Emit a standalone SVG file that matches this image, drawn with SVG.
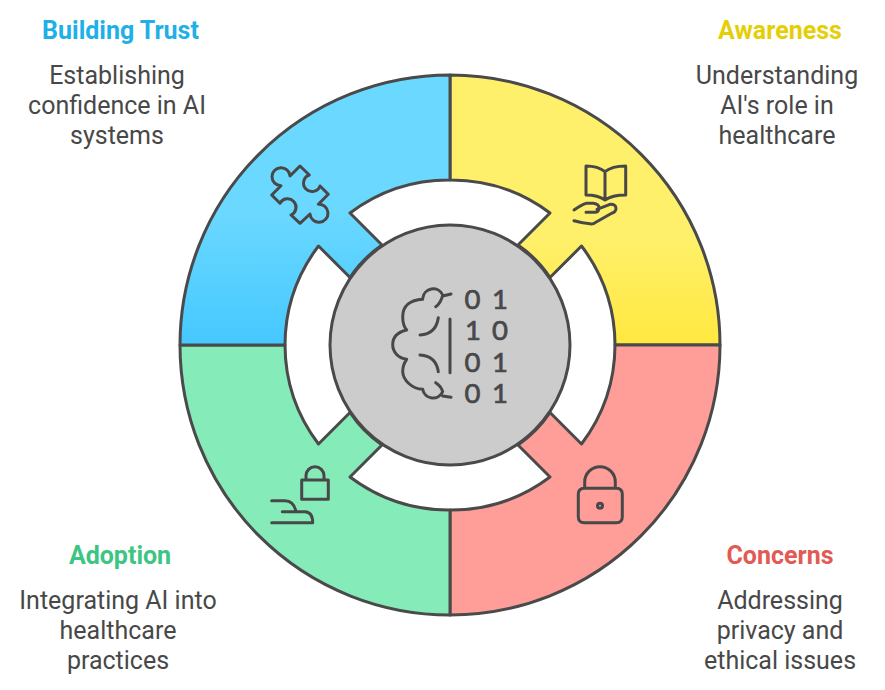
<svg xmlns="http://www.w3.org/2000/svg" width="885" height="690" viewBox="0 0 885 690">
<style>
.seg{stroke:#4a4a4a;stroke-width:3;stroke-linejoin:round}
.ic{fill:none;stroke:#484848;stroke-width:3;stroke-linecap:round;stroke-linejoin:round}
.t{font-family:Roboto,"Liberation Sans",sans-serif;font-size:25px;fill:#484848;text-anchor:middle}
.h{font-family:Roboto,"Liberation Sans",sans-serif;font-size:25px;font-weight:700;text-anchor:middle}
.d{font-family:Lato,"Liberation Sans",sans-serif;font-size:27.500px;fill:#484848;stroke:#484848;stroke-width:.7;text-anchor:middle}
</style>
<defs>
<linearGradient id="gy" x1="0" y1="0" x2="0" y2="1"><stop offset="0" stop-color="#fff06b"/><stop offset="0.6" stop-color="#fff06b"/><stop offset="1" stop-color="#ffe83f"/></linearGradient>
<linearGradient id="gb" x1="0" y1="0" x2="0" y2="1"><stop offset="0" stop-color="#6bd8ff"/><stop offset="0.5" stop-color="#6bd8ff"/><stop offset="1" stop-color="#45c8ff"/></linearGradient>
</defs>
<g id="connectors"></g>
<g id="awareness">
<path class="seg" fill="url(#gy)" d="M450 75A270 270 0 0 1 720 345H615A165 165 0 0 0 581.500 246L550 277.500A120 120 0 0 0 518 245L550 213A165 165 0 0 0 450 180Z"/>
<path class="ic" d="M586 166Q598 166 605 171.700Q612 166 625.700 166V195Q612 195 605 200Q598 195 586 195ZM605 171.700V200M574 210Q581 205 586 203.300H593.300Q599 204 599 208Q598.500 212.300 595 212.300H586M597 209.300L610 204.300Q616 204 616 208.300Q616 212 611.700 213.300L596.700 221.700Q594 224 591.700 224Q582 223 574 220.700"/>
<text class="h" x="780" y="39.200" fill="#e4cf07">Awareness</text>
<text class="t" x="777" y="84.200">Understanding</text><text class="t" x="777" y="114.200">AI's role in</text><text class="t" x="777" y="144.200">healthcare</text>
</g>
<g id="concerns">
<path class="seg" fill="#ff9e99" d="M720 345A270 270 0 0 1 450 615V510A165 165 0 0 0 550 477L518 445A120 120 0 0 0 550 412.500L581.500 444A165 165 0 0 0 615 345Z"/>
<path class="ic" d="M584.300 488.300H616.300Q622.300 488.300 622.300 494.300V516.700Q622.300 522.700 616.300 522.700H584.300Q578.300 522.700 578.300 516.700V494.300Q578.300 488.300 584.300 488.300ZM584.700 488V482A15.300 15.300 0 0 1 615.300 482V488"/>
<circle class="ic" cx="600" cy="505.700" r="2.500"/>
<text class="h" x="780" y="564.200" fill="#e25a55">Concerns</text>
<text class="t" x="780" y="609.200">Addressing</text><text class="t" x="780" y="639.200">privacy and</text><text class="t" x="780" y="669.200">ethical issues</text>
</g>
<g id="adoption">
<path class="seg" fill="#85ecb9" d="M450 615A270 270 0 0 1 180 345H285A165 165 0 0 0 318.500 444L350 412.500A120 120 0 0 0 382 445L350 477A165 165 0 0 0 450 510Z"/>
<path class="ic" d="M301.700 480H328.300V499.300H301.700ZM306 480V475.700A9 9 0 0 1 324 475.700V480M271.700 500.700H285Q294 501 296 511.700M282.300 511.700H305Q312.700 512 312.700 522.700H271.700"/>
<text class="h" x="120" y="564.200" fill="#3cc583">Adoption</text>
<text class="t" x="118" y="609.200">Integrating AI into</text><text class="t" x="118" y="639.200">healthcare</text><text class="t" x="118" y="669.200">practices</text>
</g>
<g id="building-trust">
<path class="seg" fill="url(#gb)" d="M180 345A270 270 0 0 1 450 75V180A165 165 0 0 0 350 213L382 245A120 120 0 0 0 350 277.500L318.500 246A165 165 0 0 0 285 345Z"/>
<path class="ic" d="M290 176L300 166L309.300 175A8.500 8.500 0 1 0 320 186L328.300 194.300L318.300 204.300A9 9 0 1 1 310 214L300 223.300L291 215A8.500 8.500 0 1 0 280 203.300L271.700 195L281 185.700A9 9 0 1 1 290 176Z"/>
<text class="h" x="120.500" y="39.200" fill="#1eb0e6">Building Trust</text>
<text class="t" x="117" y="84.200">Establishing</text><text class="t" x="117" y="114.200">confidence in AI</text><text class="t" x="117" y="144.200">systems</text>
</g>
<g id="center">
<circle cx="450" cy="345" r="120" fill="#cccccc" stroke="#4a4a4a" stroke-width="3"/>
<path class="ic" d="M450 319V372.700M435.700 306.700Q441 303 442.700 295A10.500 10.500 0 0 0 422.700 298.300M442.700 296L451 294M422.700 299.300C410 300 402.700 306 402.700 316.700C402.700 322 404 327 406.700 330C398 332 392.700 337 392.700 344.500C392.700 352 398 358 406.700 359.300C404 363 402.700 367 402.700 371.700C403 380 412 389 422.700 389.300A10.500 10.500 0 0 0 442.700 391.700Q441 386 435.700 382.700M442.700 396L451 397.300M438.300 317.700Q436 334 420 335M420 355Q436 356 438.300 371.700"/>
<text class="d" x="472.500" y="309">0</text><text class="d" x="500" y="309">1</text><text class="d" x="473" y="340">1</text><text class="d" x="500" y="340">0</text><text class="d" x="472.500" y="371.500">0</text><text class="d" x="500" y="371.500">1</text><text class="d" x="472.500" y="403">0</text><text class="d" x="500" y="403">1</text>
</g>
</svg>
